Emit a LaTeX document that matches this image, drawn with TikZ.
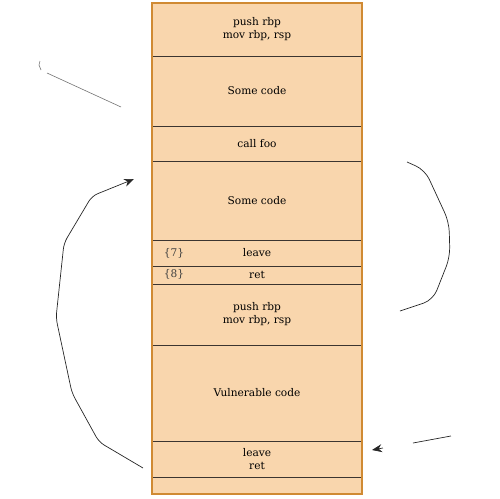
\documentclass[tikz,border=0pt]{standalone}
\usepackage{fontspec}
\usepackage{xcolor}
\usepackage{tikz}
\usetikzlibrary{positioning,calc,arrows.meta}
\newfontfamily\codefont{DejaVu Serif}
\definecolor{peach}{HTML}{F9D6AD}
\definecolor{frameorange}{HTML}{D08A33}
\definecolor{divgray}{HTML}{3C3530}
\tikzset{
    blk/.style={fill=peach, minimum width=105pt, inner sep=0pt, outer sep=0pt, align=center,
        font=\codefont\fontsize{5.3pt}{6.5pt}\selectfont},
    tagtxt/.style={inner sep=0pt, text=black!75, font=\codefont\fontsize{5.3pt}{6.5pt}\selectfont},
    divline/.style={divgray, line width=0.5pt},
    flow/.style={black!85, line width=0.35pt, rounded corners=3pt},
    faint/.style={black!55, line width=0.3pt}
}
\begin{document}
\begin{tikzpicture}[x=0.5pt, y=-0.5pt]
    \useasboundingbox (0,0) rectangle (500,499);

    % Code blocks
    \node [blk, minimum height=26.5pt, anchor=north] (b1) at (257,3) {push rbp\\mov rbp, rsp};
    \node [blk, minimum height=35pt, below=0pt of b1] (b2) {Some code};
    \node [blk, minimum height=17.5pt, below=0pt of b2] (b3) {call foo};
    \node [blk, minimum height=39.5pt, below=0pt of b3] (b4) {Some code};
    \node [blk, minimum height=13pt, below=0pt of b4] (b5) {leave};
    \node [blk, minimum height=9pt, below=0pt of b5] (b6) {ret};
    \node [blk, minimum height=30.5pt, below=0pt of b6] (b7) {push rbp\\mov rbp, rsp};
    \node [blk, minimum height=48pt, below=0pt of b7] (b8) {Vulnerable code};
    \node [blk, minimum height=18pt, below=0pt of b8] (b9) {leave\\ret};
    \node [blk, minimum height=8.5pt, below=0pt of b9] (b10) {};

    % Dividers and frame
    \foreach \b in {b1,b2,b3,b4,b5,b6,b7,b8,b9} {
        \draw [divline] (\b.south west) -- (\b.south east);
    }
    \draw [frameorange, line width=0.6pt] (b1.north west) rectangle (b10.south east);

    \node [tagtxt] (tag7) at (174,253) {\{7\}};
    \node [tagtxt] (tag8) at (174,274) {\{8\}};

    % Upper left mark
    \coordinate (ulA) at (40,61);
    \coordinate (ulB) at (41,70);
    \coordinate (ulC) at (47,73);
    \coordinate (ulD) at (121,107);
    \draw [faint] (ulA) -- (39,65) -- (ulB);
    \draw [faint] (ulC) -- (ulD);

    % Right bracket
    \coordinate (rbTop) at (407,162);
    \coordinate (rbBot) at (400,311);
    \draw [flow, rounded corners=5pt] (rbTop) -- (425,170) -- (449,222) -- (450,257) -- (433,300) -- (rbBot);

    % Return arrow on the left
    \coordinate (retStart) at (143,468);
    \coordinate (retEnd) at (134,179);
    \draw [flow, -{Stealth[length=5pt, width=4pt]}] (retStart) -- (99,442) -- (72,393) -- (56,318)
        -- (64,243) -- (92,196) -- (retEnd);

    % Bottom right pointer
    \coordinate (brA) at (451,436);
    \coordinate (brB) at (413,443);
    \coordinate (brC) at (383,448);
    \coordinate (brD) at (372,450);
    \draw [flow] (brA) -- (brB);
    \draw [flow, -{Stealth[length=5pt, width=4pt]}] (brC) -- (brD);
\end{tikzpicture}
\end{document}
